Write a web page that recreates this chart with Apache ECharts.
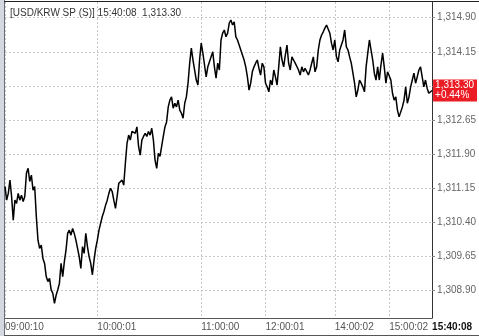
<!DOCTYPE html>
<html>
<head>
<meta charset="utf-8">
<script src="https://cdn.jsdelivr.net/npm/echarts@6/dist/echarts.min.js"></script>
<style>
html,body{margin:0;padding:0;background:#fff;}
#chart{width:479px;height:336px;}
</style>
</head>
<body>
<div id="chart"></div>
<script>
// ---- data ----
const titleText = '[USD/KRW SP (S)] 15:40:08  1,313.30';
const changeText = '+0.44%';
const timeLabels = ['09:00:10', '10:00:01', '11:00:00', '12:00:01', '14:00:02', '15:00:02', '15:40:08'];
const labelAt = [0, 56, 119, 158, 200, 233, 259];
const yTickValues = [1308.90, 1309.65, 1310.40, 1311.15, 1311.90, 1312.65, 1313.40, 1314.15, 1314.90];
const prices = [
  1311.19, 1310.89, 1311.04, 1311.33, 1310.97, 1310.45, 1310.89, 1310.82, 1311.04, 1310.89,
  1311.00, 1310.86, 1310.97, 1311.48, 1311.59, 1311.30, 1311.44, 1311.11, 1311.19, 1310.53,
  1310.01, 1309.83, 1309.90, 1309.61, 1309.50, 1309.21, 1309.10, 1309.17, 1308.92, 1308.84,
  1308.62, 1308.80, 1308.92, 1309.06, 1309.50, 1309.21, 1309.54, 1309.79, 1310.16, 1310.23,
  1310.12, 1310.27, 1310.16, 1310.01, 1309.83, 1309.65, 1309.39, 1309.87, 1309.72, 1310.16,
  1309.87, 1309.65, 1309.50, 1309.25, 1309.57, 1309.83, 1310.01, 1310.23, 1310.38, 1310.53,
  1310.64, 1310.78, 1310.89, 1311.04, 1311.15, 1311.08, 1310.89, 1310.71, 1310.97, 1311.26,
  1311.30, 1311.33, 1311.22, 1311.70, 1312.14, 1312.32, 1312.21, 1312.40, 1312.43, 1312.36,
  1312.50, 1312.07, 1311.88, 1312.21, 1312.29, 1312.36, 1312.29, 1312.40, 1312.32, 1312.47,
  1312.21, 1311.77, 1311.59, 1311.92, 1311.85, 1312.07, 1312.29, 1312.50, 1312.61, 1312.94,
  1313.09, 1313.16, 1312.91, 1313.02, 1312.94, 1313.09, 1312.87, 1312.80, 1312.69, 1313.02,
  1313.16, 1313.46, 1313.90, 1314.23, 1313.97, 1313.75, 1313.53, 1313.42, 1313.97, 1314.34,
  1314.12, 1313.86, 1313.60, 1313.82, 1313.93, 1314.04, 1314.15, 1313.82, 1313.57, 1313.90,
  1313.75, 1314.41, 1314.56, 1314.63, 1314.48, 1314.56, 1314.78, 1314.85, 1314.74, 1314.81,
  1314.48, 1314.41, 1314.30, 1314.19, 1314.08, 1313.97, 1313.82, 1313.60, 1313.31, 1313.46,
  1313.71, 1313.82, 1313.90, 1313.97, 1313.79, 1313.64, 1313.90, 1313.82, 1313.46, 1313.38,
  1313.27, 1313.53, 1313.42, 1313.75, 1313.60, 1313.42, 1313.82, 1314.26, 1313.97, 1313.82,
  1314.08, 1314.30, 1313.90, 1313.75, 1314.04, 1313.97, 1313.90, 1313.93, 1313.75, 1313.64,
  1313.82, 1313.71, 1313.79, 1313.82, 1313.64, 1313.75, 1313.90, 1314.04, 1313.71, 1313.82,
  1314.19, 1314.41, 1314.52, 1314.59, 1314.67, 1314.74, 1314.70, 1314.56, 1314.34, 1314.19,
  1314.41, 1314.04, 1313.93, 1314.19, 1314.30, 1314.41, 1314.63, 1314.26, 1314.19, 1314.04,
  1313.90, 1313.68, 1313.46, 1313.16, 1313.31, 1313.53, 1313.46, 1313.38, 1313.27, 1313.82,
  1314.12, 1314.41, 1314.19, 1313.97, 1313.68, 1313.53, 1313.82, 1313.53, 1313.86, 1314.12,
  1313.82, 1313.46, 1313.71, 1313.75, 1313.53, 1313.24, 1313.09, 1313.16, 1312.87, 1312.72,
  1312.69, 1312.94, 1313.09, 1313.38, 1313.02, 1313.16, 1313.38, 1313.53, 1313.68, 1313.46,
  1313.60, 1313.75, 1313.82, 1313.60, 1313.38, 1313.53, 1313.35, 1313.24, 1313.27, 1313.30
];

// ---- build ----
const times = prices.map(function (_, i) {
  const k = labelAt.indexOf(i);
  return k >= 0 ? timeLabels[k] : '';
});
const lastIndex = prices.length - 1;
function fmt(v) {
  const s = v.toFixed(2);
  const parts = s.split('.');
  return parts[0].replace(/\B(?=(\d{3})+(?!\d))/g, ',') + '.' + parts[1];
}
const FONT = '"Liberation Sans", Arial, sans-serif';

const chart = echarts.init(document.getElementById('chart'), null, { renderer: 'canvas' });
chart.setOption({
  animation: false,
  backgroundColor: '#fff',
  title: {
    text: titleText,
    left: 5, top: 3,
    textStyle: { fontFamily: FONT, fontSize: 10, fontWeight: 'normal', color: '#333' }
  },
  grid: { left: 5, top: 2, width: 431, height: 316, show: false },
  xAxis: {
    type: 'category',
    data: times,
    boundaryGap: false,
    axisLine: { show: true, lineStyle: { color: '#555', width: 1 } },
    axisTick: { show: false },
    axisLabel: {
      interval: function (i, v) { return v !== ''; },
      align: 'left',
      margin: 4,
      fontFamily: FONT, fontSize: 10, color: '#555',
      formatter: function (v, i) { return i === lastIndex ? '{b|' + v + '}' : v; },
      rich: { b: { fontFamily: FONT, fontSize: 10, fontWeight: 'bold', color: '#111' } }
    },
    splitLine: {
      show: true,
      interval: function (i, v) { return v !== ''; },
      lineStyle: { color: '#c8c8c8', type: [2, 2], width: 1 }
    }
  },
  yAxis: {
    type: 'value',
    position: 'right',
    min: 1308.30,
    max: 1315.245,
    axisLine: { show: true, lineStyle: { color: '#333', width: 1 } },
    axisTick: { show: true, length: 3, customValues: yTickValues, lineStyle: { color: '#888' } },
    axisLabel: {
      customValues: yTickValues,
      margin: 5,
      fontFamily: FONT, fontSize: 10, color: '#666',
      formatter: function (v) { return fmt(v); }
    },
    splitLine: { show: true, lineStyle: { color: '#c8c8c8', type: [2, 2], width: 1 } }
  },
  series: [{
    type: 'line',
    data: prices,
    showSymbol: false,
    symbol: 'none',
    lineStyle: { color: '#000', width: 1.5 },
    clip: false,
    endLabel: {
      show: true,
      distance: 1,
      formatter: function (p) { return fmt(p.value) + '\n' + changeText; },
      backgroundColor: '#ec1c24',
      color: '#fff',
      fontFamily: FONT, fontSize: 10, lineHeight: 10,
      padding: [1, 3, 1, 2],
      align: 'left'
    }
  }],
  graphic: [
    { type: 'rect', shape: { x: 0, y: 0, width: 4, height: 336 }, style: { fill: '#d3d8e1' }, silent: true },
    { type: 'line', shape: { x1: 4.5, y1: 0, x2: 4.5, y2: 336 }, style: { stroke: '#6b6f78', lineWidth: 1 }, silent: true },
    { type: 'line', shape: { x1: 4, y1: 1.5, x2: 479, y2: 1.5 }, style: { stroke: '#222', lineWidth: 1 }, silent: true },
    { type: 'line', shape: { x1: 4, y1: 335.5, x2: 479, y2: 335.5 }, style: { stroke: '#555', lineWidth: 1 }, silent: true }
  ]
});
</script>
</body>
</html>
